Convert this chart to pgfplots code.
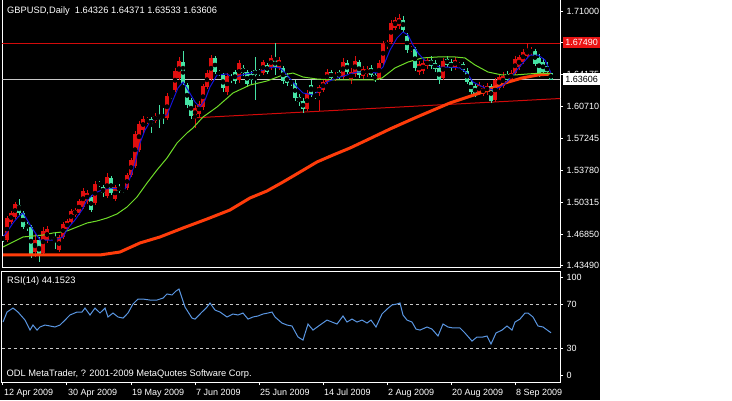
\documentclass[border=0pt]{standalone}
\usepackage{fontspec}
\setmainfont{Liberation Sans}
\usepackage{pgfplots}
\usepackage{pgfplotstable}
\pgfplotsset{compat=1.18}
\definecolor{candleup}{RGB}{225,15,15}
\definecolor{candledn}{RGB}{70,228,165}
\definecolor{mablue}{RGB}{20,20,220}
\definecolor{magreen}{RGB}{110,220,40}
\definecolor{mared}{RGB}{255,60,10}
\definecolor{linered}{RGB}{210,10,10}
\definecolor{labelred}{RGB}{235,20,20}
\definecolor{bidgrey}{RGB}{200,200,200}
\definecolor{rsiblue}{RGB}{90,150,225}

\pgfplotstableread{
i o h l c
0 1.4657 1.4678 1.4602 1.4624
1 1.4624 1.4884 1.4602 1.4862
2 1.4819 1.4938 1.4797 1.4916
3 1.4873 1.5036 1.4851 1.5014
4 1.5003 1.5068 1.4895 1.4916
5 1.4916 1.4938 1.4743 1.4765
6 1.4797 1.4819 1.4722 1.4754
7 1.4765 1.4787 1.4429 1.4462
8 1.4494 1.4700 1.4440 1.4624
9 1.4624 1.4657 1.4386 1.4451
10 1.4483 1.4765 1.4451 1.4722
11 1.4624 1.4776 1.4592 1.4743
12 1.4667 1.4678 1.4624 1.4646
13 1.4657 1.4711 1.4527 1.4624
14 1.4516 1.4678 1.4494 1.4657
15 1.4657 1.4819 1.4635 1.4797
16 1.4743 1.4851 1.4722 1.4830
17 1.4819 1.4960 1.4797 1.4938
18 1.4895 1.4971 1.4873 1.4949
19 1.4916 1.5068 1.4895 1.5046
20 1.4981 1.5187 1.4960 1.5155
21 1.5046 1.5166 1.5014 1.5133
22 1.5090 1.5111 1.4927 1.4949
23 1.5025 1.5263 1.5003 1.5231
24 1.5241 1.5263 1.5198 1.5220
25 1.5198 1.5220 1.5090 1.5133
26 1.5101 1.5350 1.5079 1.5306
27 1.5295 1.5317 1.5111 1.5133
28 1.5068 1.5220 1.5046 1.5198
29 1.5198 1.5231 1.5133 1.5155
30 1.5176 1.5187 1.5133 1.5155
31 1.5187 1.5350 1.5166 1.5328
32 1.5328 1.5512 1.5306 1.5490
33 1.5425 1.5804 1.5404 1.5772
34 1.5599 1.5913 1.5577 1.5880
35 1.5815 1.5967 1.5783 1.5934
36 1.5913 1.5956 1.5880 1.5934
37 1.5934 1.5956 1.5783 1.5869
38 1.5913 1.5999 1.5891 1.5967
39 1.5967 1.6086 1.5837 1.5934
40 1.5978 1.6053 1.5880 1.5945
41 1.5945 1.6216 1.5923 1.6183
42 1.6194 1.6205 1.6151 1.6173
43 1.6248 1.6487 1.6227 1.6454
44 1.6378 1.6606 1.6357 1.6562
45 1.6551 1.6671 1.6302 1.6324
46 1.6302 1.6324 1.6053 1.6086
47 1.6140 1.6162 1.5934 1.5967
48 1.5956 1.6086 1.5837 1.6053
49 1.5988 1.6129 1.5956 1.6097
50 1.6064 1.6313 1.6032 1.6292
51 1.6281 1.6465 1.6259 1.6432
52 1.6367 1.6627 1.6346 1.6595
53 1.6595 1.6616 1.6422 1.6443
54 1.6443 1.6465 1.6400 1.6422
55 1.6411 1.6432 1.6227 1.6270
56 1.6227 1.6432 1.6194 1.6400
57 1.6389 1.6422 1.6324 1.6357
58 1.6443 1.6465 1.6313 1.6346
59 1.6357 1.6573 1.6324 1.6541
60 1.6487 1.6519 1.6400 1.6432
61 1.6443 1.6465 1.6281 1.6313
62 1.6422 1.6454 1.6313 1.6357
63 1.6465 1.6606 1.6140 1.6411
64 1.6454 1.6476 1.6400 1.6432
65 1.6432 1.6573 1.6411 1.6551
66 1.6519 1.6541 1.6422 1.6443
67 1.6497 1.6627 1.6465 1.6595
68 1.6573 1.6757 1.6411 1.6497
69 1.6487 1.6606 1.6465 1.6573
70 1.6487 1.6508 1.6313 1.6346
71 1.6400 1.6432 1.6292 1.6324
72 1.6346 1.6367 1.6292 1.6324
73 1.6324 1.6357 1.6129 1.6162
74 1.6173 1.6205 1.6075 1.6118
75 1.6129 1.6162 1.5999 1.6043
76 1.6043 1.6248 1.6021 1.6216
77 1.6302 1.6357 1.6173 1.6194
78 1.6194 1.6227 1.6151 1.6173
79 1.6216 1.6302 1.6021 1.6281
80 1.6248 1.6367 1.6227 1.6335
81 1.6335 1.6476 1.6313 1.6443
82 1.6443 1.6465 1.6357 1.6378
83 1.6367 1.6443 1.6346 1.6411
84 1.6443 1.6465 1.6367 1.6389
85 1.6389 1.6595 1.6367 1.6551
86 1.6541 1.6573 1.6422 1.6443
87 1.6357 1.6487 1.6313 1.6443
88 1.6422 1.6616 1.6389 1.6562
89 1.6551 1.6573 1.6378 1.6411
90 1.6400 1.6508 1.6367 1.6476
91 1.6422 1.6508 1.6389 1.6476
92 1.6487 1.6519 1.6389 1.6411
93 1.6411 1.6432 1.6335 1.6357
94 1.6367 1.6573 1.6357 1.6541
95 1.6541 1.6779 1.6519 1.6746
96 1.6725 1.6790 1.6692 1.6768
97 1.6768 1.7006 1.6746 1.6974
98 1.6920 1.7039 1.6898 1.7006
99 1.6941 1.7071 1.6909 1.7028
100 1.7006 1.7050 1.6876 1.6898
101 1.6833 1.6866 1.6649 1.6681
102 1.6681 1.6725 1.6660 1.6703
103 1.6692 1.6714 1.6454 1.6487
104 1.6443 1.6562 1.6411 1.6530
105 1.6454 1.6573 1.6422 1.6541
106 1.6508 1.6606 1.6476 1.6573
107 1.6573 1.6616 1.6476 1.6508
108 1.6541 1.6573 1.6443 1.6476
109 1.6487 1.6519 1.6313 1.6357
110 1.6378 1.6595 1.6357 1.6562
111 1.6584 1.6616 1.6497 1.6519
112 1.6551 1.6584 1.6454 1.6487
113 1.6497 1.6606 1.6465 1.6573
114 1.6508 1.6551 1.6487 1.6530
115 1.6530 1.6551 1.6443 1.6465
116 1.6454 1.6487 1.6313 1.6335
117 1.6335 1.6357 1.6205 1.6227
118 1.6292 1.6313 1.6173 1.6205
119 1.6227 1.6335 1.6194 1.6302
120 1.6205 1.6302 1.6183 1.6270
121 1.6227 1.6324 1.6194 1.6292
122 1.6292 1.6313 1.6108 1.6129
123 1.6140 1.6378 1.6118 1.6357
124 1.6270 1.6422 1.6248 1.6389
125 1.6292 1.6443 1.6270 1.6400
126 1.6422 1.6454 1.6335 1.6357
127 1.6357 1.6465 1.6335 1.6432
128 1.6432 1.6616 1.6411 1.6584
129 1.6497 1.6627 1.6465 1.6606
130 1.6551 1.6692 1.6530 1.6660
131 1.6616 1.6757 1.6595 1.6692
132 1.6649 1.6714 1.6627 1.6681
133 1.6671 1.6692 1.6508 1.6530
134 1.6595 1.6638 1.6389 1.6422
135 1.6551 1.6595 1.6411 1.6443
136 1.6508 1.6551 1.6400 1.6443
137 1.64326 1.64371 1.63533 1.63606
}\bars

\pgfplotstableread{
i v
0 1.4657
1 1.4711
2.5 1.4808
3.75 1.4873
5 1.4916
7.25 1.4754
9.25 1.4624
11 1.4624
13 1.4624
15 1.4657
16.25 1.4754
18 1.4841
19.75 1.4949
21 1.5057
23 1.5133
24.75 1.5166
26.75 1.5187
29.25 1.5176
30.5 1.5176
31.75 1.5295
33 1.5458
34.25 1.5674
35.5 1.5815
36.75 1.5902
38.5 1.5945
41 1.5978
42.5 1.6140
43.75 1.6270
45 1.6335
46.25 1.6248
48 1.6118
49.25 1.6064
50.5 1.6140
51.75 1.6281
53.5 1.6411
56 1.6422
57.5 1.6378
59.75 1.6411
61.75 1.6432
65 1.6465
67.5 1.6497
69.25 1.6487
71 1.6411
73.5 1.6281
75 1.6216
77.5 1.6194
79.25 1.6248
81 1.6335
83.5 1.6378
86 1.6411
88.5 1.6443
91 1.6443
93.5 1.6432
95 1.6497
96.75 1.6681
98.5 1.6811
100 1.6876
101.25 1.6844
102.5 1.6736
103.75 1.6649
106 1.6541
109.25 1.6497
111.75 1.6497
114.25 1.6487
116 1.6432
117.5 1.6335
120 1.6281
122.5 1.6248
124.75 1.6292
126.5 1.6357
127.25 1.6400
129.75 1.6530
131.75 1.6627
133.75 1.6627
135.5 1.6573
137 1.6432
}\mablue

\pgfplotstableread{
i v
0 1.4548
2.5 1.4602
5 1.4657
7.5 1.4667
10 1.4678
12.5 1.4700
14.75 1.4711
16 1.4722
18.5 1.4765
21 1.4808
23.5 1.4830
26 1.4862
28.5 1.4906
31 1.4981
33.5 1.5090
36 1.5241
38.5 1.5382
41 1.5512
43.5 1.5674
46 1.5783
47.5 1.5837
50 1.5956
53.5 1.6064
57.5 1.6216
61.75 1.6302
66 1.6346
70 1.6411
72.5 1.6432
75 1.6389
78.5 1.6367
82.5 1.6357
86.75 1.6357
93 1.6357
94.75 1.6378
98 1.6487
101.25 1.6551
104.75 1.6595
108.75 1.6606
113 1.6606
115.5 1.6595
118 1.6519
121.25 1.6443
124.75 1.6411
128 1.6411
131.25 1.6422
134.75 1.6432
137 1.6422
}\magreentab

\pgfplotstableread{
i v
0 1.4462
24.25 1.4462
29.25 1.4494
34.25 1.4592
39.25 1.4657
45 1.4754
51 1.4851
56.75 1.4949
61.75 1.5079
66 1.5155
70 1.5252
74.25 1.5360
78.5 1.5469
82.5 1.5544
86.75 1.5620
91 1.5707
96.75 1.5826
103.5 1.5956
111.75 1.6108
120 1.6227
125.5 1.6324
129.75 1.6378
133.75 1.6411
137 1.6422
}\maredtab

\pgfplotstableread{
i r
0 53.9
1 63.0
2.5 66.6
3.75 63.0
5.5 55.7
6.75 46.6
7.5 51.2
8.5 46.6
9.25 49.4
10.5 51.2
11.75 50.3
13 49.4
14.25 51.2
15.5 55.7
16.75 60.3
18.5 63.0
19.75 63.0
20.5 66.6
21.75 60.3
23 66.6
24.25 62.1
25.5 66.6
26.25 58.5
27.5 62.1
28.75 58.5
30 57.5
31.25 62.1
32.5 70.3
33.75 74.8
35 74.8
36.75 73.9
38.5 73.9
40 75.7
41 79.4
42.25 78.5
43.25 82.1
44 83.9
45.5 67.5
47.25 57.5
48 56.6
49.75 63.0
51 67.5
51.75 71.2
53 64.8
54.25 63.0
56 58.5
57.5 61.2
58.75 60.3
60 62.1
61.25 56.6
62.5 58.5
63.75 59.4
65 61.2
66.25 62.1
67.25 63.0
68 58.5
69.75 53.0
71 51.2
72.25 50.3
73.75 40.3
75 37.5
76.25 52.1
77.5 46.6
79.25 51.2
81 55.7
82.25 53.9
83.5 52.1
85 59.4
86 53.9
87.25 56.6
88.5 53.9
89.75 55.7
91 53.0
92 55.7
93.25 49.4
94.75 61.2
96 65.7
97.25 69.4
98.5 70.3
99.25 71.2
100 60.3
101 55.7
102.25 53.9
103.25 47.5
104.25 46.6
106 49.4
107.25 47.5
108.75 41.2
110 52.1
111.25 49.4
112.5 48.5
114.25 48.5
115.5 43.9
117.25 36.6
118.5 40.3
120 40.3
121 41.2
122 33.9
123.25 43.9
124.75 46.6
126 50.3
127.25 46.6
128 53.9
129.25 56.6
130.5 62.1
131.25 62.1
132.5 58.5
133.75 50.3
135 49.4
137 44.15
}\rsitab

\newcommand{\mtfont}{\fontsize{9}{10.8}\selectfont}
\newcommand{\titlefont}{\fontsize{9.3}{11}\selectfont}

\begin{document}
\begin{tikzpicture}
\useasboundingbox (0pt,0pt) rectangle (732pt,400pt);
\fill[white] (0pt,0pt) rectangle (732pt,400pt);
\fill[black] (0pt,0pt) rectangle (600pt,400pt);

\begin{axis}[
  at={(2pt,133pt)}, anchor=south west, scale only axis,
  width=558pt, height=268pt,
  xmin=-0.25, xmax=139.25, ymin=1.43317, ymax=1.72336,
  axis line style={white, line width=1pt},
  xtick=\empty,
  ytick={1.4349,1.4685,1.50315,1.5378,1.57245,1.6071,1.64175,1.6764,1.71},
  yticklabels={1.43490,1.46850,1.50315,1.53780,1.57245,1.60710,1.64175,1.67640,1.71000},
  ytick pos=right, yticklabel pos=right,
  tick align=outside, major tick length=3pt,
  tick style={white, line width=1pt},
  tick label style={text=white, font=\mtfont},
]
\addplot[linered, line width=1pt] coordinates {(-0.25,1.6749) (139.25,1.6749)};
\addplot[linered, line width=1pt] coordinates {(47.5,1.5946) (139.25,1.6156)};
\addplot[bidgrey, line width=1pt] coordinates {(-0.25,1.63606) (139.25,1.63606)};
% wicks
\addplot[only marks, mark=none, error bars/.cd, y dir=both, y explicit, error mark=none,
  error bar style={candleup, line width=1pt}]
  table[x expr={\thisrow{c}>\thisrow{o} ? \thisrow{i} : -100},
        y expr={(\thisrow{h}+\thisrow{l})/2},
        y error expr={(\thisrow{h}-\thisrow{l})/2}] {\bars};
\addplot[only marks, mark=none, error bars/.cd, y dir=both, y explicit, error mark=none,
  error bar style={candledn, line width=1pt}]
  table[x expr={\thisrow{c}>\thisrow{o} ? -100 : \thisrow{i}},
        y expr={(\thisrow{h}+\thisrow{l})/2},
        y error expr={(\thisrow{h}-\thisrow{l})/2}] {\bars};
% bodies
\addplot[only marks, mark=none, error bars/.cd, y dir=both, y explicit, error mark=none,
  error bar style={candleup, line width=3.2pt}]
  table[x expr={\thisrow{c}>\thisrow{o} ? \thisrow{i} : -100},
        y expr={(\thisrow{o}+\thisrow{c})/2},
        y error expr={max(abs(\thisrow{c}-\thisrow{o})/2,0.0006)}] {\bars};
\addplot[only marks, mark=none, error bars/.cd, y dir=both, y explicit, error mark=none,
  error bar style={candledn, line width=3.2pt}]
  table[x expr={\thisrow{c}>\thisrow{o} ? -100 : \thisrow{i}},
        y expr={(\thisrow{o}+\thisrow{c})/2},
        y error expr={max(abs(\thisrow{c}-\thisrow{o})/2,0.0006)}] {\bars};
% moving averages
\addplot[mared, line width=3pt] table[x=i, y=v] {\maredtab};
\addplot[magreen, line width=1pt] table[x=i, y=v] {\magreentab};
\addplot[mablue, line width=1pt] table[x=i, y=v] {\mablue};
\end{axis}

\begin{axis}[
  at={(2pt,18pt)}, anchor=south west, scale only axis,
  width=558pt, height=111pt,
  xmin=-0.25, xmax=139.25, ymin=-0.6, ymax=100.3,
  axis line style={white, line width=1pt},
  xtick={0,16,32,48,64,80,96,112,128},
  xticklabels={12 Apr 2009,30 Apr 2009,19 May 2009,7 Jun 2009,25 Jun 2009,14 Jul 2009,2 Aug 2009,20 Aug 2009,8 Sep 2009},
  xtick pos=bottom,
  xticklabel style={anchor=north west, xshift=-2.5pt, text height=7pt, text depth=2pt},
  ytick={5.7,30,70,94.8},
  yticklabels={0,30,70,100},
  ytick pos=right, yticklabel pos=right,
  tick align=outside, major tick length=3pt,
  tick style={white, line width=1pt},
  tick label style={text=white, font=\mtfont},
]
\addplot[bidgrey, line width=1pt, dash pattern=on 3pt off 3pt] coordinates {(-0.25,70) (139.25,70)};
\addplot[bidgrey, line width=1pt, dash pattern=on 3pt off 3pt] coordinates {(-0.25,30) (139.25,30)};
\addplot[rsiblue, line width=1pt] table[x=i, y=r] {\rsitab};
\end{axis}

\node[anchor=west, text=white, font=\titlefont, inner sep=0pt] at (7pt,389pt) {GBPUSD,Daily\ \ 1.64326 1.64371 1.63533 1.63606};
\node[anchor=west, text=white, font=\titlefont, inner sep=0pt] at (7pt,119.3pt) {RSI(14) 44.1523};
\node[anchor=west, text=white, font=\titlefont, inner sep=0pt] at (6.5pt,26pt) {ODL MetaTrader, ? 2001-2009 MetaQuotes Software Corp.};
\node[anchor=west, fill=labelred, text=white, font=\mtfont, inner sep=0pt, minimum width=37pt, minimum height=10.5pt] at (563pt,357.5pt) {1.67490};
\node[anchor=west, fill=white, text=black, font=\mtfont, inner sep=0pt, minimum width=37pt, minimum height=11.5pt] at (563pt,320.8pt) {1.63606};
\end{tikzpicture}
\end{document}
